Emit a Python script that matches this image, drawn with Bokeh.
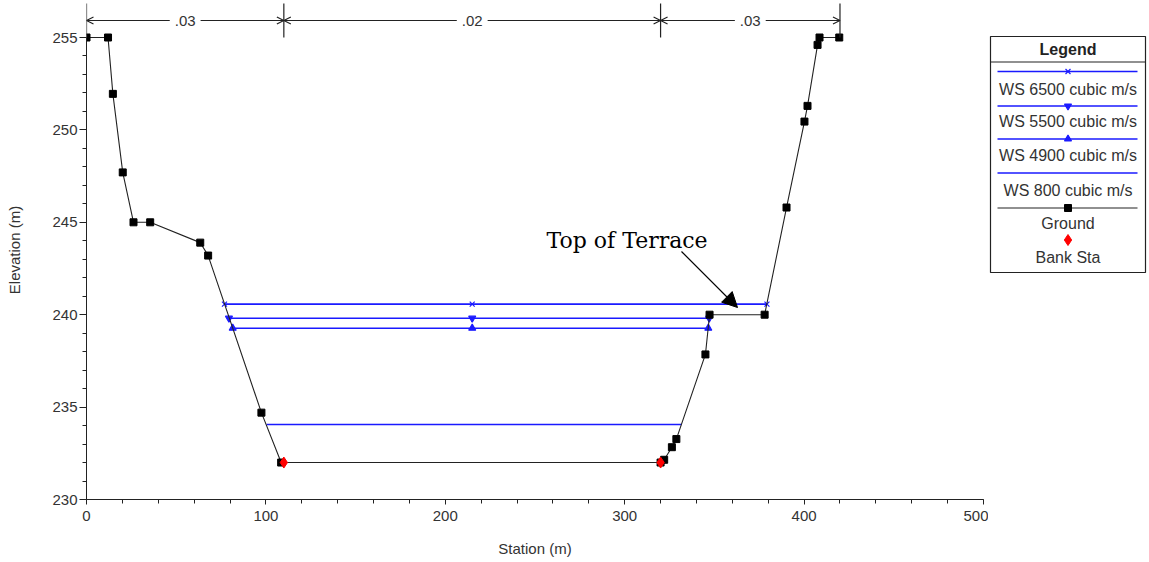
from bokeh.plotting import figure
from bokeh.layouts import row
from bokeh.models import Range1d, FixedTicker, Label, Arrow, OpenHead, NormalHead
from bokeh.core.properties import value
from bokeh.embed import file_html
from bokeh.resources import INLINE

# ---------------- data ----------------
ground_sta = [0, 12, 14.7, 20.2, 26.2, 35.5, 63.4, 67.8, 97.5, 108.5, 320, 322, 326.3, 328.8,
              345, 347.3, 378, 390.2, 400.2, 401.9, 407.5, 408.6, 419.6]
ground_elev = [255.0, 255.0, 251.95, 247.7, 245.0, 245.0, 243.9, 243.2, 234.7, 232.0, 232.0, 232.15,
               232.83, 233.27, 237.85, 240.0, 240.0, 245.8, 250.45, 251.3, 254.6, 255.0, 255.0]
bank_sta = [110, 320]
bank_elev = [232.0, 232.0]

ws_labels = ["WS 6500 cubic m/s", "WS 5500 cubic m/s", "WS 4900 cubic m/s", "WS 800 cubic m/s"]
ws_elev = [240.57, 239.81, 239.27, 234.06]
ws_left = [76.9, 79.4, 81.5, 100.4]
ws_right = [379.3, 347.1, 346.6, 331.6]
ws_markers = ["x", "inverted_triangle", "triangle", None]
channel_center = 215

n_breaks = [0, 110, 320, 420]
n_values = [".03", ".02", ".03"]

x_ticks = [0, 100, 200, 300, 400, 500]
x_minor = list(range(0, 501, 20))
y_ticks = [230, 235, 240, 245, 250, 255]
y_minor = list(range(230, 256, 1))

# ---------------- layout helpers ----------------
MAIN_W, FIG_H = 988, 560
LEG_W = 160
FRAME_L, FRAME_B, FRAME_R = 86, 499, 983
PXX = (FRAME_R - FRAME_L) / 500.0
PXY = 18.48


def fx(sx):
    """screen x -> station"""
    return (sx - FRAME_L) / PXX


def fy(sy):
    """screen y -> elevation"""
    return 230 + (FRAME_B - sy) / PXY


FONT = "Liberation Sans"
TXT = "#333333"
DARK = "#222222"
BLUE = "#1a1aff"

p = figure(width=MAIN_W, height=FIG_H, output_backend="svg", toolbar_location=None,
           x_range=Range1d(0, 500), y_range=Range1d(230, fy(0)),
           min_border_left=FRAME_L, min_border_right=MAIN_W - FRAME_R, min_border_top=0,
           min_border_bottom=FIG_H - FRAME_B)
p.outline_line_color = None
p.xgrid.visible = False
p.ygrid.visible = False

for ax in (p.xaxis[0], p.yaxis[0]):
    ax.axis_line_color = DARK
    ax.major_tick_line_color = DARK
    ax.minor_tick_line_color = DARK
    ax.major_tick_in = 0
    ax.minor_tick_in = 0
    ax.major_label_text_font = FONT
    ax.major_label_text_font_size = "15px"
    ax.major_label_text_color = TXT
    ax.axis_label_text_font = FONT
    ax.axis_label_text_font_size = "15px"
    ax.axis_label_text_font_style = "normal"
    ax.axis_label_text_color = TXT

p.xaxis.ticker = FixedTicker(ticks=x_ticks, minor_ticks=x_minor)
p.xaxis.major_tick_out = 5
p.xaxis.minor_tick_out = 4
p.xaxis.major_label_standoff = 6
p.xaxis.axis_label = "Station (m)"
p.xaxis.axis_label_standoff = 16

p.yaxis.bounds = (230, 255)
p.yaxis.ticker = FixedTicker(ticks=y_ticks, minor_ticks=y_minor)
p.yaxis.major_tick_out = 7
p.yaxis.minor_tick_out = 4
p.yaxis.major_label_standoff = 2
p.yaxis.axis_label = "Elevation (m)"
p.yaxis.axis_label_standoff = 26

# ---------------- water surfaces ----------------
p.segment(x0=ws_left, y0=ws_elev, x1=ws_right, y1=ws_elev, line_color=BLUE, line_width=1.6)
for i, m in enumerate(ws_markers):
    if m is None:
        continue
    xs = [ws_left[i], channel_center, ws_right[i]]
    ys = [ws_elev[i]] * 3
    p.scatter(xs, ys, marker=m, size=7, line_color=BLUE, fill_color=BLUE, line_width=1.2)

# ---------------- ground ----------------
p.line(ground_sta, ground_elev, line_color=DARK, line_width=1.1)
p.scatter(ground_sta, ground_elev, marker="square", size=7, line_color="black", fill_color="black")
p.scatter(bank_sta, bank_elev, marker="diamond", size=11, line_color="red", fill_color="red")

# ---------------- Manning's n annotations ----------------
p.segment(x0=n_breaks, y0=[fy(37)] * len(n_breaks), x1=n_breaks, y1=[fy(3)] * len(n_breaks),
          line_color=DARK, line_width=1.2)
for i, nv in enumerate(n_values):
    a, b = n_breaks[i], n_breaks[i + 1]
    p.add_layout(Arrow(start=OpenHead(size=7, line_color=DARK, line_width=1.2),
                       end=OpenHead(size=7, line_color=DARK, line_width=1.2),
                       x_start=a, y_start=fy(20), x_end=b, y_end=fy(20),
                       line_color=DARK, line_width=1.2))
    p.add_layout(Label(x=(a + b) / 2, y=fy(20), text=nv, text_align="center",
                       text_baseline="middle", text_font=FONT, text_font_size="15px",
                       text_color=TXT, background_fill_color="white", padding=5))

# ---------------- Top of Terrace callout ----------------
p.add_layout(Label(x=fx(546), y=fy(240), text="Top of Terrace", text_align="left",
                   text_baseline="middle", text_font="DejaVu Serif", text_font_size="22px",
                   text_color="black"))
p.add_layout(Arrow(end=NormalHead(size=15, fill_color="black", line_color="black"),
                   x_start=fx(681), y_start=fy(251), x_end=fx(737), y_end=fy(307),
                   line_color="black", line_width=1.2))

# ---------------- legend (separate panel, screen-like coords) ----------------
L0 = MAIN_W
leg = figure(width=LEG_W, height=FIG_H, output_backend="svg", toolbar_location=None,
             x_range=Range1d(0, LEG_W), y_range=Range1d(FRAME_B, 0),
             x_axis_location=None, y_axis_location=None,
             min_border_left=0, min_border_right=0, min_border_top=0,
             min_border_bottom=FIG_H - FRAME_B)
leg.outline_line_color = None
leg.xgrid.visible = False
leg.ygrid.visible = False


def lx(sx):
    return sx - L0


LX0, LX1, LT, LB = 990, 1145, 36, 272
LC = (LX0 + LX1) / 2
leg.quad(left=[lx(LX0)], right=[lx(LX1)], top=[LT], bottom=[LB],
         fill_color="white", line_color=DARK, line_width=1.2)
leg.segment(x0=[lx(LX0)], y0=[61.5], x1=[lx(LX1)], y1=[61.5], line_color=DARK, line_width=1.2)
leg.text(x=[lx(LC)], y=[49], text=["Legend"], text_align="center", text_baseline="middle",
         text_font=value(FONT), text_font_size=value("16px"), text_font_style="bold", text_color=DARK)

line_y = [71, 105.5, 138.5, 172.5, 207.5]
text_y = [89, 121, 155, 190, 223]
leg_labels = ws_labels + ["Ground"]
for i, lab in enumerate(leg_labels):
    col = BLUE if i < 4 else DARK
    leg.segment(x0=[lx(997)], y0=[line_y[i]], x1=[lx(1137)], y1=[line_y[i]],
                line_color=col, line_width=1.6 if i < 4 else 1.2)
    if i < 4 and ws_markers[i] is not None:
        leg.scatter([lx(LC)], [line_y[i]], marker=ws_markers[i], size=7,
                    line_color=col, fill_color=col, line_width=1.2)
    if i == 4:
        leg.scatter([lx(LC)], [line_y[i]], marker="square", size=7, line_color="black", fill_color="black")
    leg.text(x=[lx(LC)], y=[text_y[i]], text=[lab], text_align="center", text_baseline="middle",
             text_font=value(FONT), text_font_size=value("16px"), text_color=TXT)

leg.scatter([lx(LC)], [239.5], marker="diamond", size=11, line_color="red", fill_color="red")
leg.text(x=[lx(LC)], y=[257], text=["Bank Sta"], text_align="center", text_baseline="middle",
         text_font=value(FONT), text_font_size=value("16px"), text_color=TXT)

layout = row(p, leg)
open("out.html", "w").write(file_html(layout, INLINE))
